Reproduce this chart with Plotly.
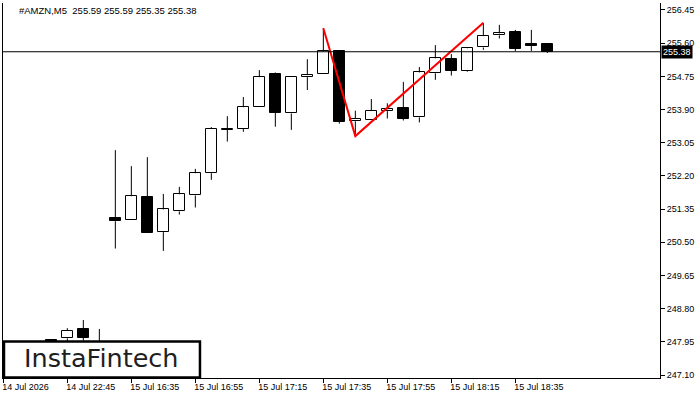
import plotly.graph_objects as go

# ---- data ----
times = ["14 Jul 22:25", "14 Jul 22:30", "14 Jul 22:35", "14 Jul 22:40", "14 Jul 22:45",
         "14 Jul 22:50", "14 Jul 22:55", "15 Jul 16:30", "15 Jul 16:35", "15 Jul 16:40",
         "15 Jul 16:45", "15 Jul 16:50", "15 Jul 16:55", "15 Jul 17:00", "15 Jul 17:05",
         "15 Jul 17:10", "15 Jul 17:15", "15 Jul 17:20", "15 Jul 17:25", "15 Jul 17:30",
         "15 Jul 17:35", "15 Jul 17:40", "15 Jul 17:45", "15 Jul 17:50", "15 Jul 17:55",
         "15 Jul 18:00", "15 Jul 18:05", "15 Jul 18:10", "15 Jul 18:15", "15 Jul 18:20",
         "15 Jul 18:25", "15 Jul 18:30", "15 Jul 18:35", "15 Jul 18:40", "15 Jul 18:45"]
opens  = [247.70, 247.80, 247.75, 248.01, 248.04, 248.28, 247.93, 251.11, 251.06, 251.65,
          250.76, 251.29, 251.70, 252.27, 253.38, 253.41, 253.96, 254.81, 253.80, 254.73,
          254.80, 255.39, 253.60, 253.62, 253.86, 253.93, 253.70, 254.83, 255.19, 254.90,
          255.49, 255.80, 255.88, 255.58, 255.59]
highs  = [247.85, 247.95, 247.92, 248.01, 248.30, 248.51, 248.28, 252.86, 252.45, 252.68,
          251.74, 251.92, 252.38, 253.45, 253.73, 254.22, 254.91, 254.85, 254.75, 255.19,
          255.98, 255.42, 253.87, 254.17, 254.06, 254.61, 254.99, 255.55, 255.32, 255.50,
          256.12, 256.07, 255.94, 255.94, 255.59]
lows   = [247.55, 247.70, 247.65, 247.80, 247.95, 247.98, 247.80, 250.34, 251.06, 250.75,
          250.28, 251.21, 251.39, 252.10, 253.08, 253.33, 253.96, 253.46, 253.38, 254.40,
          254.80, 253.54, 253.22, 253.62, 253.67, 253.62, 253.57, 254.66, 254.77, 254.87,
          255.43, 255.72, 255.40, 255.40, 255.35]
closes = [247.80, 247.75, 247.88, 247.88, 248.24, 248.05, 247.88, 251.04, 251.68, 250.75,
          251.34, 251.73, 252.27, 253.40, 253.41, 253.96, 254.73, 253.82, 254.74, 254.78,
          255.39, 253.59, 253.66, 253.86, 253.91, 253.67, 254.85, 255.21, 254.90, 255.47,
          255.78, 255.85, 255.46, 255.54, 255.38]
tick_idx = [0, 4, 8, 12, 16, 20, 24, 28, 32]
tick_labels = ["14 Jul 2026", "14 Jul 22:45", "15 Jul 16:35", "15 Jul 16:55", "15 Jul 17:15",
               "15 Jul 17:35", "15 Jul 17:55", "15 Jul 18:15", "15 Jul 18:35"]
y_ticks = [247.10, 247.95, 248.80, 249.65, 250.50, 251.35, 252.20, 253.05, 253.90,
           254.75, 255.60, 256.45]
pattern_idx = [20, 22, 30]
pattern_price = [255.98, 253.22, 256.12]
last_price = 255.38
title_text = "#AMZN,M5  255.59 255.59 255.35 255.38"

x = list(range(len(times)))
base = [min(o, c) for o, c in zip(opens, closes)]
height = [abs(c - o) for o, c in zip(opens, closes)]
colors = ["white" if c >= o else "black" for o, c in zip(opens, closes)]

wx, wy = [], []
for i in x:
    top = max(opens[i], closes[i]); bot = min(opens[i], closes[i])
    if highs[i] > top:
        wx += [i, i, None]; wy += [highs[i], top, None]
    if lows[i] < bot:
        wx += [i, i, None]; wy += [bot, lows[i], None]

fig = go.Figure()
fig.add_trace(go.Bar(x=x, y=height, base=base, width=0.65,
                     marker=dict(color=colors, line=dict(color="black", width=1)),
                     hoverinfo="skip", showlegend=False))
fig.add_trace(go.Scatter(x=wx, y=wy, mode="lines", line=dict(color="black", width=1),
                         hoverinfo="skip", showlegend=False))
fig.add_trace(go.Scatter(x=pattern_idx, y=pattern_price, mode="lines",
                         line=dict(color="#ff0000", width=2), hoverinfo="skip", showlegend=False))

fig.add_shape(type="line", xref="paper", yref="y", x0=0, x1=1, y0=last_price, y1=last_price,
              line=dict(color="black", width=1), layer="above")
fig.add_annotation(xref="paper", yref="y", x=1, y=last_price, xanchor="left", yanchor="middle",
                   text="255.38", showarrow=False, bgcolor="black", xshift=1,
                   font=dict(family="Liberation Sans", size=9, color="white"), borderpad=1)
fig.add_annotation(xref="paper", yref="paper", x=0.0213, y=0.981, xanchor="left", yanchor="middle",
                   text=title_text, showarrow=False,
                   font=dict(family="Liberation Sans", size=9.5, color="black"))
# logo
fig.add_shape(type="rect", xref="paper", yref="paper", x0=0.0015, x1=0.2998, y0=0.0013, y1=0.0973,
              fillcolor="white", line=dict(color="black", width=2.5), layer="above")
fig.add_annotation(xref="paper", yref="paper", x=0.150, y=0.053, xanchor="center", yanchor="middle",
                   text="InstaFintech", showarrow=False,
                   font=dict(family="DejaVu Sans", size=25.5, color="#1e1e1e"))

fig.update_layout(
    width=700, height=400,
    margin=dict(l=3, r=40, t=3, b=22),
    paper_bgcolor="white", plot_bgcolor="white",
    bargap=0, showlegend=False,
    font=dict(family="Liberation Sans", size=9, color="black"),
)
fig.update_xaxes(range=[-0.02, 41.04], tickvals=tick_idx, ticktext=tick_labels,
                 showgrid=False, zeroline=False, showline=True, linecolor="black", linewidth=1,
                 ticks="outside", ticklen=4, tickcolor="black", ticklabelposition="outside right",
                 ticklabelshift=-2,
                 tickfont=dict(family="Liberation Sans", size=9, color="black"))
fig.update_yaxes(range=[247.024, 256.629], side="right", tickvals=y_ticks,
                 ticktext=[f"{v:.2f}" for v in y_ticks],
                 showgrid=False, zeroline=False, showline=True, mirror=True, linecolor="black",
                 linewidth=1, ticks="outside", ticklen=4, tickcolor="black",
                 tickfont=dict(family="Liberation Sans", size=9, color="black"))

fig.write_html("out.html")
